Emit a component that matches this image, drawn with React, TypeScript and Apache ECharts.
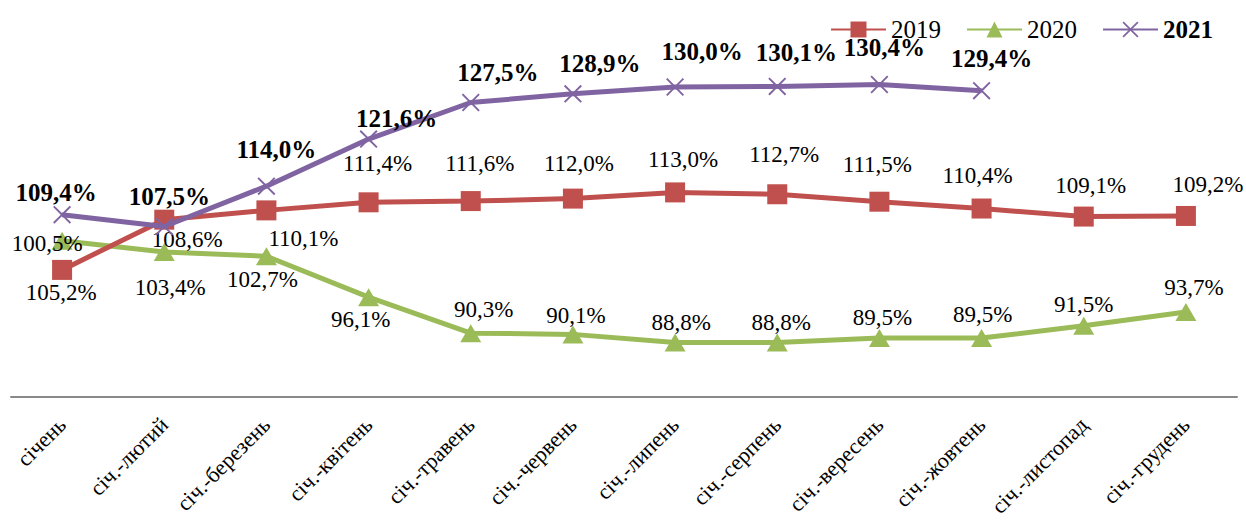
import React, { useEffect, useRef } from "react";
import * as echarts from "echarts";

const categories = [
  "січень",
  "січ.-лютий",
  "січ.-березень",
  "січ.-квітень",
  "січ.-травень",
  "січ.-червень",
  "січ.-липень",
  "січ.-серпень",
  "січ.-вересень",
  "січ.-жовтень",
  "січ.-листопад",
  "січ.-грудень",
];

const values2019 = [100.5, 108.6, 110.1, 111.4, 111.6, 112.0, 113.0, 112.7, 111.5, 110.4, 109.1, 109.2];
const values2020 = [105.2, 103.4, 102.7, 96.1, 90.3, 90.1, 88.8, 88.8, 89.5, 89.5, 91.5, 93.7];
const values2021 = [109.4, 107.5, 114.0, 121.6, 127.5, 128.9, 130.0, 130.1, 130.4, 129.4];

// label placement (pixel offsets from each point)
const offsets2019 = [[-15, -26], [23, 20], [37, 28], [9, -39], [9, -38], [6, -35], [8, -33], [7, -40], [-2, -37], [-4, -33], [7, -31], [22, -31]];
const offsets2020 = [[-1, 52], [6, 36], [-4, 23], [-8, 22], [13, -24], [3, -19], [6, -20], [4, -20], [3, -21], [1, -24], [0, -21], [8, -25]];
const offsets2021 = [[-6, -22], [5, -30], [10, -37], [28, -21], [27, -30], [27, -30], [27, -36], [19, -34], [5, -37], [10, -32]];

const RED = "#C0504D";
const GREEN = "#9BBB59";
const PURPLE = "#8064A2";
const FONT = "Liberation Serif, Times New Roman, serif";

const X_SYMBOL =
  "path://M0,1.5L1.5,0L10,8.5L18.5,0L20,1.5L11.5,10L20,18.5L18.5,20L10,11.5L1.5,20L0,18.5L8.5,10Z";

const fmt = (v: number) => v.toFixed(1).replace(".", ",") + "%";

function items(vals: number[], offs: number[][], bold: boolean) {
  return vals.map((v, i) => ({
    value: v,
    label: {
      show: true,
      position: "inside",
      offset: offs[i],
      formatter: () => fmt(v),
      color: "#000",
      fontFamily: FONT,
      fontSize: bold ? 25 : 23,
      fontWeight: bold ? "bold" : "normal",
      align: "center",
      verticalAlign: "middle",
    },
  }));
}

export default function App() {
  const ref = useRef<HTMLDivElement>(null);
  useEffect(() => {
    if (!ref.current) return;
    const chart = echarts.init(ref.current, null, { renderer: "svg" });
    chart.setOption({
      animation: false,
      backgroundColor: "#fff",
      textStyle: { fontFamily: FONT },
      legend: {
        right: 28,
        top: 12,
        itemWidth: 55,
        itemHeight: 20,
        itemGap: 25,
        textStyle: {
          fontFamily: FONT,
          fontSize: 25,
          color: "#000",
          rich: { b: { fontFamily: FONT, fontSize: 25, fontWeight: "bold", color: "#000" } },
        },
        formatter: (name: string) => (name === "2021" ? `{b|${name}}` : name),
        data: ["2019", "2020", "2021"],
      },
      grid: {
        left: 11,
        right: 9,
        top: 25,
        bottom: 125,
        containLabel: false,
        outerBoundsMode: "none",
      },
      xAxis: {
        type: "category",
        data: categories,
        boundaryGap: true,
        axisLine: { show: true, lineStyle: { color: "#898989", width: 2 } },
        axisTick: { show: false },
        axisLabel: {
          rotate: 45,
          margin: 24,
          fontFamily: FONT,
          fontSize: 22,
          color: "#000",
          interval: 0,
        },
      },
      yAxis: {
        type: "value",
        min: 80,
        max: 140,
        show: false,
        splitLine: { show: false },
      },
      series: [
        {
          name: "2019",
          type: "line",
          data: items(values2019, offsets2019, false),
          symbol: "rect",
          symbolSize: 20,
          lineStyle: { color: RED, width: 5 },
          itemStyle: { color: RED },
          z: 3,
        },
        {
          name: "2020",
          type: "line",
          data: items(values2020, offsets2020, false),
          symbol: "triangle",
          symbolSize: [21, 18],
          lineStyle: { color: GREEN, width: 5 },
          itemStyle: { color: GREEN },
          z: 2,
        },
        {
          name: "2021",
          type: "line",
          data: items(values2021, offsets2021, true),
          symbol: X_SYMBOL,
          symbolSize: 18,
          lineStyle: { color: PURPLE, width: 5 },
          itemStyle: { color: PURPLE },
          z: 4,
        },
      ],
    });
    return () => chart.dispose();
  }, []);
  return (
    <div
      ref={ref}
      style={{ position: "absolute", left: 0, top: 0, width: 1246, height: 522 }}
    />
  );
}
